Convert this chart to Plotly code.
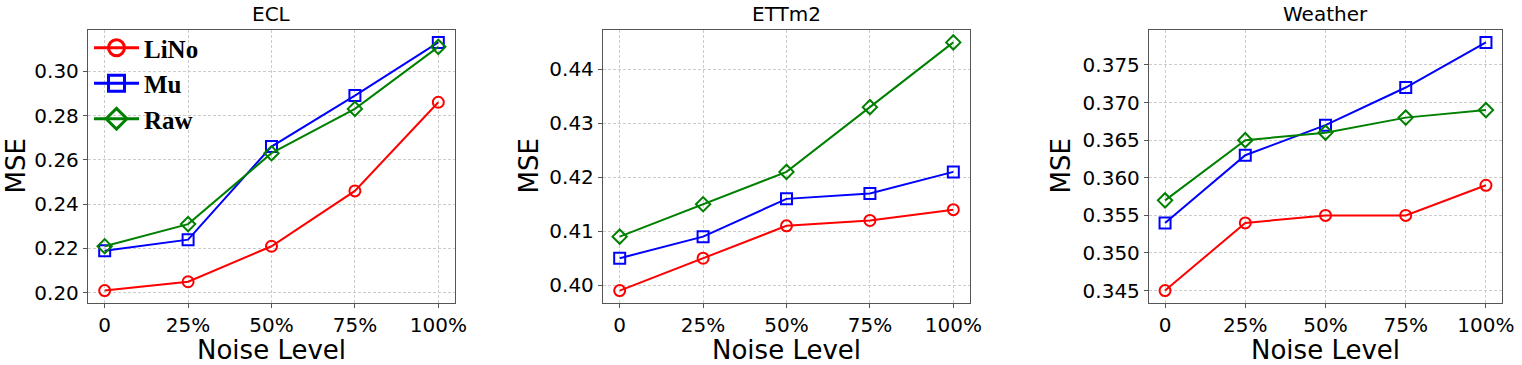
import plotly.graph_objects as go

W, H = 1522, 365

NOISE_LEVELS = ["0", "25%", "50%", "75%", "100%"]
DATASETS = ["ECL", "ETTm2", "Weather"]

ECL_LINO = [0.201, 0.205, 0.221, 0.246, 0.286]
ECL_MU = [0.219, 0.224, 0.266, 0.289, 0.313]
ECL_RAW = [0.221, 0.231, 0.263, 0.283, 0.311]

ETTM2_LINO = [0.399, 0.405, 0.411, 0.412, 0.414]
ETTM2_MU = [0.405, 0.409, 0.416, 0.417, 0.421]
ETTM2_RAW = [0.409, 0.415, 0.421, 0.433, 0.445]

WEATHER_LINO = [0.345, 0.354, 0.355, 0.355, 0.359]
WEATHER_MU = [0.354, 0.363, 0.367, 0.372, 0.378]
WEATHER_RAW = [0.357, 0.365, 0.366, 0.368, 0.369]

ECL_TICKS = [0.20, 0.22, 0.24, 0.26, 0.28, 0.30]
ETTM2_TICKS = [0.40, 0.41, 0.42, 0.43, 0.44]
WEATHER_TICKS = [0.345, 0.350, 0.355, 0.360, 0.365, 0.370, 0.375]

SERIES = [
    ("LiNo", "red", "circle-open"),
    ("Mu", "blue", "square-open"),
    ("Raw", "green", "diamond-open"),
]

PANELS = [
    (ECL_LINO, ECL_MU, ECL_RAW, ECL_TICKS, ".2f"),
    (ETTM2_LINO, ETTM2_MU, ETTM2_RAW, ETTM2_TICKS, ".2f"),
    (WEATHER_LINO, WEATHER_MU, WEATHER_RAW, WEATHER_TICKS, ".3f"),
]

# plot area boxes in pixels (left, right), shared top/bottom
X_BOXES = [(88, 455), (603, 970), (1149, 1502)]
Y_TOP, Y_BOTTOM = 30, 303
MSE_X = [16, 529, 1061]
TITLE_Y, XLABEL_Y = 14, 350

FONT = "DejaVu Sans"


def px(x):
    return x / W


def py(y):
    return 1 - y / H


fig = go.Figure()
annotations = []

for i, (lino, mu, raw, ticks, fmt) in enumerate(PANELS):
    n = "" if i == 0 else str(i + 1)
    for (name, color, symbol), ys in zip(SERIES, [lino, mu, raw]):
        fig.add_trace(go.Scatter(
            x=NOISE_LEVELS, y=ys, name=name,
            mode="lines+markers",
            line=dict(color=color, width=2),
            marker=dict(symbol=symbol, size=11, color=color, line=dict(color=color, width=2)),
            xaxis="x" + n, yaxis="y" + n,
            showlegend=False,
        ))

    allv = lino + mu + raw
    lo, hi = min(allv), max(allv)
    pad = (hi - lo) * 0.05
    x0, x1 = X_BOXES[i]
    axis_common = dict(
        showline=True, mirror=True, linecolor="#555555", linewidth=1.3,
        ticks="outside", ticklen=4, tickcolor="#555555",
        showgrid=True, gridcolor="#cccccc", griddash="3px,2px", gridwidth=1,
        zeroline=False, automargin=False,
        tickfont=dict(family=FONT, size=20, color="black"),
    )
    fig.layout["xaxis" + n] = dict(
        axis_common, domain=[px(x0), px(x1)], anchor="y" + n,
        type="category", range=[-0.2, 4.2],
    )
    fig.layout["yaxis" + n] = dict(
        axis_common, domain=[py(Y_BOTTOM), py(Y_TOP)], anchor="x" + n,
        range=[lo - pad, hi + pad], tickvals=ticks, tickformat=fmt,
    )

    annotations.append(dict(
        text=DATASETS[i], x=px((x0 + x1) / 2), y=py(TITLE_Y),
        xref="paper", yref="paper", showarrow=False,
        xanchor="center", yanchor="middle",
        font=dict(family=FONT, size=20, color="black"),
    ))
    annotations.append(dict(
        text="Noise Level", x=px((x0 + x1) / 2), y=py(XLABEL_Y),
        xref="paper", yref="paper", showarrow=False,
        xanchor="center", yanchor="middle",
        font=dict(family=FONT, size=26, color="black"),
    ))
    annotations.append(dict(
        text="MSE", x=px(MSE_X[i]), y=py((Y_TOP + Y_BOTTOM) / 2),
        xref="paper", yref="paper", showarrow=False, textangle=-90,
        xanchor="center", yanchor="middle",
        font=dict(family=FONT, size=26, color="black"),
    ))

# legend entries (first panel only), drawn with bigger symbols like the original
for name, color, symbol in SERIES:
    fig.add_trace(go.Scatter(
        x=[None], y=[None], name=name, mode="lines+markers",
        line=dict(color=color, width=3),
        marker=dict(symbol=symbol, size=16, color=color, line=dict(color=color, width=3)),
        xaxis="x", yaxis="y", showlegend=True,
    ))

fig.update_layout(
    width=W, height=H,
    margin=dict(l=0, r=0, t=0, b=0, autoexpand=False),
    paper_bgcolor="white", plot_bgcolor="white",
    annotations=annotations,
    legend=dict(
        x=px(89), y=py(25), xanchor="left", yanchor="top",
        bgcolor="rgba(0,0,0,0)", borderwidth=0,
        font=dict(family="Liberation Serif", size=25, color="black", weight="bold"),
        itemwidth=45, itemsizing="trace", tracegroupgap=0,
    ),
)

# drop the default 8px body margin so the figure sits in the window corner
fig.write_html(
    "out.html",
    config={"displayModeBar": False},
    post_script="document.body.style.margin = '0';",
)
